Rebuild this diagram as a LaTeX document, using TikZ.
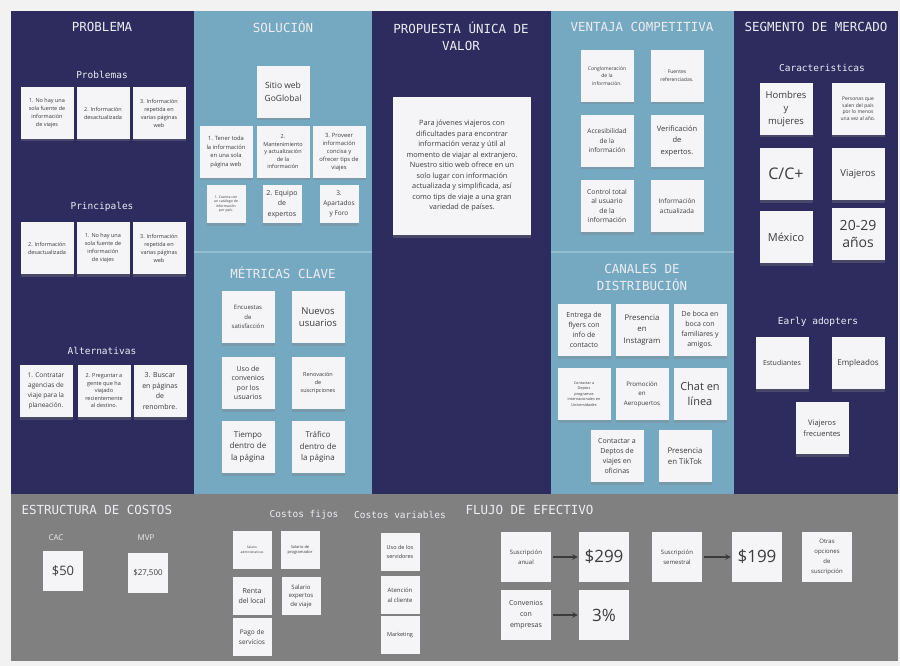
\documentclass[tikz,border=0pt]{standalone}
\usepackage{fontspec}
\setmainfont{Open Sans}
\newfontfamily\headfont{DejaVu Sans Mono}
\usetikzlibrary{shadows}
\definecolor{navy}{HTML}{2E2B5E}
\definecolor{sky}{HTML}{74A9C1}
\definecolor{skyline}{HTML}{93BFD3}
\definecolor{slate}{HTML}{808080}
\definecolor{paper}{HTML}{F5F5F7}
\definecolor{ink}{HTML}{3B3B3B}
\definecolor{chalk}{HTML}{EDEDF3}
\tikzset{
  head/.style={text=chalk, font=\headfont\fontsize{12.5}{17}\selectfont, align=center},
  subhead/.style={text=chalk, font=\headfont\fontsize{9.5}{12}\selectfont},
  fs/.style 2 args={font=\fontsize{#1}{#2}\selectfont},
  note/.style={fill=paper, text=ink, align=center, inner sep=1pt,
    minimum width=53pt, minimum height=52pt,
    drop shadow={shadow xshift=0pt, shadow yshift=-2.5pt, opacity=0.35}},
  sm/.style={minimum width=39pt, minimum height=38pt},
  md/.style={minimum width=50pt, minimum height=50pt},
  flow/.style={->, draw=ink, line width=1.4pt, shorten <=2pt, shorten >=1pt},
}
\begin{document}
\begin{tikzpicture}[x=1pt, y=-1pt, >=stealth]
\useasboundingbox (0,0) rectangle (900,666);
\fill[black!5] (0,0) rectangle (900,666);
\fill[navy] (11,11) rectangle (194,494);
\fill[sky] (194,11) rectangle (372,494);
\fill[navy] (372,11) rectangle (551,494);
\fill[sky] (551,11) rectangle (734,494);
\fill[navy] (734,11) rectangle (898,494);
\fill[slate] (11,494) rectangle (898,661);
\draw[skyline, line width=1.5pt] (194,252) -- (372,252);
\draw[skyline, line width=1.5pt] (551,252) -- (734,252);

\node[head] at (102, 27) (tprob) {PROBLEMA};
\node[subhead] at (102, 75) (hprob) {Problemas};
\node[note, fs={5.5}{8}] at (47, 113) (p1) {1. No hay una\\sola fuente de\\información\\de viajes};
\node[note, fs={5.5}{8}] at (103, 113) (p2) {2. Información\\desactualizada};
\node[note, fs={5.5}{8}] at (159, 113) (p3) {3. Información\\repetida en\\varias páginas\\web};
\node[subhead] at (102, 207) (hprin) {Principales};
\node[note, fs={5.5}{8}] at (47, 248) (q1) {2. Información\\desactualizada};
\node[note, fs={5.5}{8}] at (103, 248) (q2) {1. No hay una\\sola fuente de\\información\\de viajes};
\node[note, fs={5.5}{8}] at (159, 248) (q3) {3. Información\\repetida en\\varias páginas\\web};
\node[subhead] at (102, 351) (halt) {Alternativas};
\node[note, fs={6.5}{10}] at (46, 391) (a1) {1. Contratar\\agencias de\\viaje para la\\planeación.};
\node[note, fs={5.5}{7.5}] at (104, 391) (a2) {2. Preguntar a\\gente que ha\\viajado\\recientemente\\al destino.};
\node[note, fs={7}{10.5}] at (160, 391) (a3) {3. Buscar\\en páginas\\de\\renombre.};

\node[head] at (283, 27) (tsol) {SOLUCIÓN};
\node[note, fs={8.5}{13}] at (283, 92) (s0) {Sitio web\\GoGlobal};
\node[note, fs={5.8}{8.5}] at (226, 152) (s1) {1. Tener toda\\la información\\en una sola\\página web};
\node[note, fs={5.5}{7.5}] at (283, 152) (s2) {2.\\Mantenimiento\\y actualización\\de la\\información};
\node[note, fs={5.8}{8}] at (339, 152) (s3) {3. Proveer\\información\\concisa y\\ofrecer tips de\\viajes};
\node[note, sm, fs={3.5}{4.5}] at (226, 204) (s4) {1. Cuenta con\\un catálogo de\\información\\por país.};
\node[note, sm, fs={7}{10.5}] at (282, 204) (s5) {2. Equipo\\de\\expertos};
\node[note, sm, fs={6.5}{10}] at (339, 204) (s6) {3.\\Apartados\\y Foro};

\node[head] at (283, 273) (tmet) {MÉTRICAS CLAVE};
\node[note, fs={6}{9.5}] at (248, 317) (m1) {Encuestas\\de\\satisfacción};
\node[note, fs={9.5}{12}] at (318, 317) (m2) {Nuevos\\usuarios};
\node[note, fs={7}{9.5}] at (248, 383) (m3) {Uso de\\convenios\\por los\\usuarios};
\node[note, fs={5.5}{8}] at (318, 383) (m4) {Renovación\\de\\suscripciones};
\node[note, fs={8}{11.5}] at (248, 447) (m5) {Tiempo\\dentro de\\la página};
\node[note, fs={8}{11.5}] at (318, 447) (m6) {Tráfico\\dentro de\\la página};

\node[head] at (461, 36) (tprop) {PROPUESTA ÚNICA DE\\VALOR};
\node[note, minimum width=138pt, minimum height=138pt, fs={7.3}{10.5}] at (462, 166) (uvp) {Para jóvenes viajeros con\\dificultades para encontrar\\información veraz y útil al\\momento de viajar al extranjero.\\Nuestro sitio web ofrece en un\\solo lugar con información\\actualizada y simplificada, así\\como tips de viaje a una gran\\variedad de países.};

\node[head] at (642, 27) (tven) {VENTAJA COMPETITIVA};
\node[note, fs={5}{7.5}] at (607, 76) (v1) {Conglomeración\\de la\\información.};
\node[note, fs={5}{7.5}] at (677, 76) (v2) {Fuentes\\referenciadas.};
\node[note, fs={6.5}{9.5}] at (607, 141) (v3) {Accesibilidad\\de la\\información};
\node[note, fs={7.5}{11.5}] at (677, 141) (v4) {Verificación\\de\\expertos.};
\node[note, fs={6.8}{9.5}] at (607, 206) (v5) {Control total\\al usuario\\de la\\información};
\node[note, fs={6.5}{10}] at (677, 206) (v6) {Información\\actualizada};

\node[head] at (642, 277) (tcan) {CANALES DE\\DISTRIBUCIÓN};
\node[note, fs={7}{10}] at (584, 330) (c1) {Entrega de\\flyers con\\info de\\contacto};
\node[note, fs={7.8}{11.5}] at (642, 330) (c2) {Presencia\\en\\Instagram};
\node[note, fs={7}{10}] at (700, 330) (c3) {De boca en\\boca con\\familiares y\\amigos.};
\node[note, fs={3.8}{5.5}] at (584, 394) (c4) {Contactar a\\Deptos\\programas\\internacionales en\\Universidades};
\node[note, fs={6.2}{9.5}] at (642, 394) (c5) {Promoción\\en\\Aeropuertos};
\node[note, fs={11}{15}] at (700, 394) (c6) {Chat en\\línea};
\node[note, fs={7}{10}] at (617, 456) (c7) {Contactar a\\Deptos de\\viajes en\\oficinas};
\node[note, fs={7.8}{11}] at (685, 456) (c8) {Presencia\\en TikTok};

\node[head] at (816, 27) (tseg) {SEGMENTO DE MERCADO};
\node[subhead] at (822, 68) (hcar) {Caracteristicas};
\node[note, fs={9.5}{13}] at (786, 109) (g1) {Hombres\\y\\mujeres};
\node[note, fs={5}{6.5}] at (858, 109) (g2) {Personas que\\salen del país\\por lo menos\\una vez al año.};
\node[note, fs={16}{18}] at (786, 174) (g3) {C/C+};
\node[note, fs={9.5}{12}] at (858, 174) (g4) {Viajeros};
\node[note, fs={11}{14}] at (786, 237) (g5) {México};
\node[note, fs={14}{17}] at (858, 234) (g6) {20-29\\años};
\node[subhead] at (818, 322) (hear) {Early adopters};
\node[note, fs={7}{10}] at (782, 363) (e1) {Estudiantes};
\node[note, fs={8}{10}] at (858, 363) (e2) {Empleados};
\node[note, fs={7.5}{11}] at (822, 428) (e3) {Viajeros\\frecuentes};

\node[head, anchor=west] at (18, 510) (tcos) {ESTRUCTURA DE COSTOS};
\node[text=chalk, fs={8}{10}] at (56, 538) (hcac) {CAC};
\node[text=chalk, fs={8}{10}] at (146, 538) (hmvp) {MVP};
\node[note, minimum width=40pt, minimum height=40pt, fs={13}{15}] at (63, 571) (k1) {\$50};
\node[note, minimum width=40pt, minimum height=40pt, fs={8}{10}] at (148, 573) (k2) {\$27,500};
\node[subhead] at (304, 515) (hfij) {Costos fijos};
\node[subhead] at (400, 515) (hvar) {Costos variables};
\node[note, sm, fs={3.2}{4.5}] at (252, 550) (f1) {Salario\\administrativos};
\node[note, sm, fs={4}{5.5}] at (300, 550) (f2) {Salario de\\programador};
\node[note, sm, fs={7}{10}] at (252, 596) (f3) {Renta\\del local};
\node[note, sm, fs={6}{8.5}] at (301, 596) (f4) {Salario\\expertos\\de viaje};
\node[note, sm, fs={6.5}{10}] at (252, 637) (f5) {Pago de\\servicios};
\node[note, sm, fs={5.5}{8.5}] at (400, 552) (w1) {Uso de los\\servidores};
\node[note, sm, fs={6}{9.5}] at (400, 595) (w2) {Atención\\al cliente};
\node[note, sm, fs={5.5}{8}] at (400, 635) (w3) {Marketing};

\node[head, anchor=west] at (462, 510) (tflu) {FLUJO DE EFECTIVO};
\node[note, md, fs={6}{10}] at (526, 557) (sa) {Suscripción\\anual};
\node[note, md, fs={17}{20}] at (604, 557) (r1) {\$299};
\node[note, md, fs={6}{10}] at (677, 557) (ss) {Suscripción\\semestral};
\node[note, md, fs={17}{20}] at (757, 557) (r2) {\$199};
\node[note, md, fs={6}{10}] at (827, 557) (ot) {Otras\\opciones\\de\\suscripción};
\node[note, md, fs={7}{11}] at (526, 615) (cv) {Convenios\\con\\empresas};
\node[note, md, fs={17}{20}] at (604, 615) (r3) {3\%};
\draw[flow] (sa) -- (r1);
\draw[flow] (ss) -- (r2);
\draw[flow] (cv) -- (r3);
\end{tikzpicture}
\end{document}
